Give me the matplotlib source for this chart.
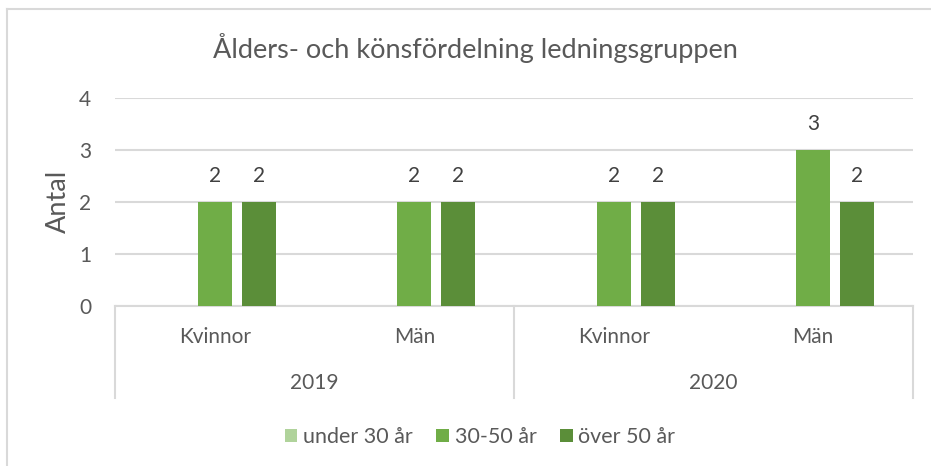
import numpy as np
import matplotlib as mpl
mpl.use('Agg')
import matplotlib.pyplot as plt
from matplotlib.lines import Line2D
from matplotlib.patches import Patch
import matplotlib.transforms as mtransforms

plt.rcParams['font.family'] = ['Lato', 'DejaVu Sans']

# data
years = ['2019', '2020']
genders = ['Kvinnor', 'Män', 'Kvinnor', 'Män']
series_names = ['under 30 år', '30-50 år', 'över 50 år']
under_30 = [0, 0, 0, 0]
mid_30_50 = [2, 2, 2, 3]
over_50 = [2, 2, 2, 2]
y_ticks = [0, 1, 2, 3, 4]

colors = ['#b0d39b', '#70ad47', '#5b8e39']
text_col = '#595959'
grid_col = '#d9d9d9'

W, H = 931, 466
fig = plt.figure(figsize=(W / 100, H / 100), dpi=100)

# plot area in pixels
left, right, top, bottom = 115, 913, 98, 306
ax = fig.add_axes([left / W, 1 - bottom / H, (right - left) / W, (bottom - top) / H])

x = np.arange(len(genders))
bw = 0.17
step = 0.22
all_series = [under_30, mid_30_50, over_50]
for i, vals in enumerate(all_series):
    pos = x + (i - 1) * step
    ax.bar(pos, vals, width=bw, color=colors[i], zorder=3)
    for p, v in zip(pos, vals):
        if v > 0:
            ax.annotate(str(v), (p, v), xytext=(0, 19), textcoords='offset points',
                        ha='center', va='center', fontsize=15, color='#404040')

ax.set_xlim(-0.5, len(genders) - 0.5)
ax.set_ylim(0, 4)
ax.set_yticks(y_ticks)
ax.tick_params(axis='y', length=0, pad=17, labelsize=15, labelcolor=text_col)
ax.set_xticks([])
ax.grid(axis='y', color=grid_col, lw=1.5, zorder=0)
for s in ['top', 'right', 'left']:
    ax.spines[s].set_visible(False)
ax.spines['bottom'].set_color(grid_col)
ax.spines['bottom'].set_linewidth(1.5)

# y axis title
fig.text(58 / W, 1 - 201 / H, 'Antal', rotation=90, ha='center', va='center',
         fontsize=19.5, color=text_col)

# hierarchical category axis
trans = mtransforms.blended_transform_factory(ax.transData, ax.transAxes)
line_bottom = -(398 - bottom) / (bottom - top)
for xv in [-0.5, 1.5, 3.5]:
    ax.add_line(Line2D([xv, xv], [0, line_bottom], transform=trans, color=grid_col,
                       lw=1.5, clip_on=False))
lab_y = -(337 - bottom) / (bottom - top)
for xi, g in zip(x, genders):
    ax.text(xi, lab_y, g, transform=trans, ha='center', va='center', fontsize=15, color=text_col)
yr_y = -(383 - bottom) / (bottom - top)
for j, yr in enumerate(years):
    ax.text(0.5 + 2 * j, yr_y, yr, transform=trans, ha='center', va='center', fontsize=15,
            color=text_col)

fig.text(475 / W, 1 - 48 / H, 'Ålders- och könsfördelning ledningsgruppen', ha='center',
         va='center', fontsize=19.5, color=text_col)

handles = [Patch(facecolor=c, edgecolor='none') for c in colors]
fig.legend(handles, series_names, loc='center', bbox_to_anchor=(480 / W, 1 - 437 / H), ncol=3,
           frameon=False, fontsize=15.5, labelcolor=text_col, handlelength=0.6, handleheight=0.6,
           handletextpad=0.25, columnspacing=1.1)

# chart border (cropped at right and bottom)
fig.add_artist(Line2D([7 / W, 1], [1 - 9 / H, 1 - 9 / H], color=grid_col, lw=1.5))
fig.add_artist(Line2D([7 / W, 7 / W], [0, 1 - 9 / H], color=grid_col, lw=1.5))

fig.savefig('out.png', dpi=100)
